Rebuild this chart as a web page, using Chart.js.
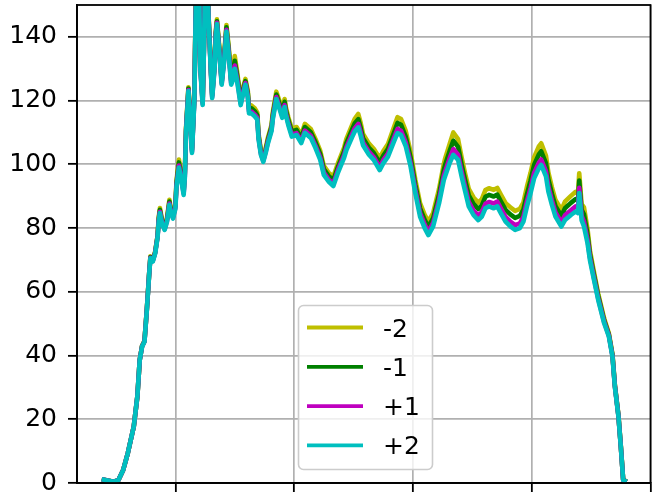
<!DOCTYPE html>
<html>
<head>
<meta charset="utf-8">
<script src="https://cdn.jsdelivr.net/npm/chart.js@4/dist/chart.umd.min.js"></script>
<style>
  html, body { margin: 0; padding: 0; background: #fff; }
  #wrap { width: 653px; height: 502px; }
</style>
</head>
<body>
<div id="wrap"><canvas id="chart" width="653" height="502"></canvas></div>
<script>
// values (x in axis units, ticks every 100)
const xValues = [
    38, 48, 52, 56, 60, 65, 68, 70, 72, 74,
    76, 78, 79, 81, 83, 85, 86, 87, 89, 91,
    93, 95, 96, 98, 100, 101, 103, 105, 107, 108,
    109, 111, 112, 114, 116, 117, 118, 120, 121, 123,
    124, 125, 127, 128, 130, 131, 133, 134, 135, 137,
    139, 141, 143, 145, 147, 148, 150, 152, 155, 157,
    159, 161, 162, 164, 167, 169, 170, 172, 174, 176,
    178, 181, 182, 185, 188, 190, 192, 193, 195, 198,
    202, 206, 209, 214, 218, 222, 225, 229, 233, 237,
    242, 244, 249, 251, 254, 256, 258, 263, 267, 272,
    275, 279, 284, 287, 290, 294, 298, 302, 306, 310,
    313, 317, 322, 326, 327, 331, 334, 338, 341, 344,
    347, 351, 355, 358, 361, 364, 368, 371, 374, 378,
    382, 386, 390, 393, 396, 399, 402, 406, 408, 412,
    414, 417, 420, 425, 428, 433, 437, 439, 440, 442,
    444, 447, 449, 452, 456, 461, 465, 468, 470, 473,
    475, 477, 480
];

const seriesMinus2 = [
    1.2, 0.4, 0.9, 4.0, 9.4, 17.7, 27.1, 38.6, 43.1, 44.6,
    54.6, 66.1, 71.1, 70.1, 72.6, 77.6, 83.4, 86.3, 82.2, 80.4,
    83.3, 88.9, 86.4, 84.2, 87.5, 95.0, 101.5, 97.2, 92.2, 98.0,
    111.5, 124.2, 118.5, 105.1, 121.5, 146.5, 161.5, 156.5, 131.5, 120.1,
    136.5, 156.5, 159.5, 146.5, 129.5, 122.3, 131.5, 141.8, 145.5, 136.8,
    126.5, 134.0, 143.7, 136.5, 127.0, 128.5, 134.0, 129.0, 120.6, 124.0,
    126.8, 123.0, 118.2, 118.5, 117.5, 116.2, 109.8, 104.5, 102.0, 105.0,
    108.5, 112.5, 116.2, 122.8, 119.5, 116.9, 120.5, 118.0, 114.9, 111.2,
    111.7, 109.2, 112.7, 111.1, 107.9, 104.2, 99.5, 97.4, 96.1, 100.5,
    105.2, 108.0, 112.5, 114.3, 115.8, 113.0, 109.5, 106.5, 104.9, 101.9,
    104.1, 106.4, 111.6, 114.8, 114.2, 110.4, 103.9, 95.2, 87.8, 84.1,
    82.0, 84.7, 92.3, 100.1, 101.7, 106.5, 110.0, 107.9, 102.2, 97.0,
    92.3, 89.6, 88.0, 89.1, 91.9, 92.5, 92.0, 92.6, 90.5, 87.8,
    86.5, 85.4, 86.0, 88.0, 93.0, 97.3, 102.2, 105.6, 106.6, 102.7,
    97.5, 92.8, 88.8, 85.7, 88.3, 90.1, 91.4, 90.9, 97.2, 87.5,
    86.5, 79.7, 73.0, 67.0, 59.4, 51.6, 46.9, 40.4, 30.8, 21.3,
    11.7, 1.1, 0.4
];

const seriesMinus1 = [
    1.2, 0.4, 0.9, 4.0, 9.4, 17.7, 27.1, 38.6, 43.0, 44.5,
    54.5, 66.0, 70.9, 69.9, 72.4, 77.4, 82.9, 85.7, 81.8, 80.0,
    82.8, 88.3, 85.9, 83.8, 86.9, 94.3, 100.6, 96.4, 91.5, 97.3,
    110.9, 123.8, 117.9, 104.5, 120.9, 145.9, 160.9, 155.9, 130.9, 119.5,
    135.9, 155.9, 158.9, 145.9, 128.9, 121.7, 130.9, 141.1, 144.9, 136.1,
    125.9, 133.3, 143.0, 135.6, 126.3, 127.6, 132.5, 127.9, 119.9, 123.3,
    126.1, 122.3, 117.4, 117.6, 116.6, 115.4, 109.1, 103.9, 101.6, 104.4,
    107.8, 111.8, 115.4, 121.9, 118.6, 116.0, 119.6, 117.1, 114.0, 110.3,
    110.8, 108.3, 111.7, 110.1, 106.9, 103.2, 98.5, 96.4, 95.0, 99.4,
    104.0, 106.7, 111.1, 112.8, 114.2, 111.5, 108.2, 105.2, 103.6, 100.5,
    102.7, 104.9, 109.9, 113.0, 112.4, 108.6, 102.2, 93.6, 86.2, 82.5,
    80.4, 83.1, 90.6, 98.3, 99.7, 104.3, 107.4, 105.5, 100.0, 95.0,
    90.3, 87.6, 86.0, 87.1, 89.8, 90.4, 89.9, 90.5, 88.4, 85.7,
    84.3, 83.2, 83.8, 85.8, 90.7, 94.9, 99.8, 103.1, 104.1, 100.3,
    95.3, 90.8, 86.9, 83.8, 86.2, 87.9, 89.1, 88.6, 94.9, 85.7,
    84.3, 78.0, 71.9, 66.1, 58.7, 51.0, 46.5, 40.1, 30.6, 21.2,
    11.6, 1.0, 0.4
];

const seriesPlus1 = [
    1.2, 0.4, 0.9, 4.0, 9.4, 17.7, 27.1, 38.6, 42.9, 44.4,
    54.4, 65.9, 70.7, 69.7, 72.2, 77.2, 82.4, 85.1, 81.3, 79.7,
    82.3, 87.7, 85.4, 83.3, 86.4, 93.5, 99.6, 95.6, 90.9, 96.5,
    110.4, 123.3, 117.4, 104.0, 120.4, 145.4, 160.4, 155.4, 130.4, 119.0,
    135.4, 155.4, 158.4, 145.4, 128.4, 121.2, 130.4, 140.5, 144.4, 135.5,
    125.4, 132.5, 142.2, 134.6, 125.5, 126.6, 131.0, 126.8, 119.1, 122.5,
    125.5, 121.5, 116.6, 116.6, 115.6, 114.6, 108.5, 103.4, 101.1, 103.9,
    107.2, 111.0, 114.6, 121.1, 117.6, 115.2, 118.6, 116.1, 113.0, 109.3,
    109.8, 107.3, 110.6, 109.0, 105.8, 102.1, 97.4, 95.3, 93.9, 98.3,
    102.8, 105.4, 109.7, 111.3, 112.7, 110.0, 106.9, 103.9, 102.3, 99.1,
    101.3, 103.4, 108.2, 111.1, 110.5, 106.8, 100.5, 92.1, 84.7, 81.0,
    78.9, 81.6, 88.9, 96.4, 97.6, 102.0, 104.8, 103.0, 97.7, 92.9,
    88.2, 85.5, 83.9, 85.0, 87.6, 88.2, 87.7, 88.3, 86.2, 83.5,
    82.0, 80.9, 81.5, 83.5, 88.4, 92.5, 97.3, 100.5, 101.5, 97.8,
    93.0, 88.7, 84.9, 81.8, 84.0, 85.6, 86.8, 86.3, 92.6, 83.8,
    82.0, 76.3, 70.8, 65.1, 57.9, 50.5, 46.2, 39.8, 30.4, 21.0,
    11.5, 0.9, 0.4
];

const seriesPlus2 = [
    1.2, 0.4, 0.9, 4.0, 9.4, 17.7, 27.1, 38.6, 42.8, 44.3,
    54.3, 65.8, 70.5, 69.5, 72.0, 77.0, 82.0, 84.7, 81.0, 79.4,
    82.0, 87.3, 85.0, 83.0, 86.0, 93.0, 99.0, 95.0, 90.4, 96.0,
    110.0, 123.0, 117.0, 103.6, 120.0, 145.0, 160.0, 155.0, 130.0, 118.6,
    135.0, 155.0, 158.0, 145.0, 128.0, 120.8, 130.0, 140.0, 144.0, 135.0,
    125.0, 132.0, 141.7, 134.0, 125.0, 126.0, 130.0, 126.0, 118.6, 122.0,
    125.0, 121.0, 116.0, 116.0, 115.0, 114.0, 108.0, 103.0, 100.8, 103.5,
    106.7, 110.5, 114.0, 120.5, 117.0, 114.6, 118.0, 115.5, 112.4, 108.7,
    109.2, 106.7, 109.9, 108.3, 105.1, 101.4, 96.7, 94.6, 93.2, 97.5,
    102.0, 104.5, 108.7, 110.3, 111.6, 109.0, 106.0, 103.0, 101.4, 98.2,
    100.3, 102.4, 107.1, 109.8, 109.2, 105.6, 99.4, 91.0, 83.6, 79.9,
    77.8, 80.5, 87.8, 95.1, 96.2, 100.5, 103.0, 101.4, 96.2, 91.5,
    86.8, 84.1, 82.5, 83.6, 86.2, 86.8, 86.2, 86.8, 84.7, 82.0,
    80.5, 79.4, 80.0, 82.0, 86.8, 90.9, 95.6, 98.8, 99.8, 96.2,
    91.5, 87.3, 83.6, 80.5, 82.5, 84.1, 85.2, 84.7, 91.0, 82.5,
    80.5, 75.2, 70.0, 64.5, 57.4, 50.1, 45.9, 39.6, 30.2, 20.9,
    11.4, 0.9, 0.4
];

const seriesLabels = ['-2', '-1', '+1', '+2'];
const seriesColors = ['#bfbf00', '#008000', '#bf00bf', '#00bfbf'];
const seriesValues = [seriesMinus2, seriesMinus1, seriesPlus1, seriesPlus2];

const FONT = 'DejaVu Sans';
const GRID = '#b0b0b0';

// ── Plugins ──────────────────────────────────────────────────────────────────

// top/right spines like matplotlib's box
const framePlugin = {
    id: 'frame',
    afterDatasetsDraw(chart) {
        const { ctx, chartArea: a } = chart;
        ctx.save();
        ctx.strokeStyle = '#000';
        ctx.lineWidth = 1.8;
        ctx.strokeRect(a.left, a.top, a.right - a.left, a.bottom - a.top);
        ctx.restore();
    }
};

// legend box inside the plot area
const legendPlugin = {
    id: 'innerLegend',
    afterDraw(chart) {
        const { ctx } = chart;
        const box = { x: 298.5, y: 305.5, w: 134, h: 164 };
        ctx.save();
        ctx.beginPath();
        ctx.roundRect(box.x, box.y, box.w, box.h, 5);
        ctx.fillStyle = 'rgba(255,255,255,0.8)';
        ctx.fill();
        ctx.strokeStyle = '#cccccc';
        ctx.lineWidth = 1.6;
        ctx.stroke();

        ctx.font = `25px "${FONT}"`;
        ctx.textAlign = 'left';
        ctx.textBaseline = 'alphabetic';
        chart.data.datasets.forEach((ds, i) => {
            const rowY = 327.5 + i * 39.3;
            ctx.beginPath();
            ctx.moveTo(307, rowY);
            ctx.lineTo(363, rowY);
            ctx.strokeStyle = ds.borderColor;
            ctx.lineWidth = 3.8;
            ctx.stroke();
            ctx.fillStyle = '#000';
            ctx.fillText(ds.label, 383, rowY + 9);
        });
        ctx.restore();
    }
};

// ── Chart ────────────────────────────────────────────────────────────────────

const datasets = seriesValues.map((vals, i) => ({
    label: seriesLabels[i],
    data: vals.map((v, j) => ({ x: xValues[j], y: v })),
    borderColor: seriesColors[i],
    borderWidth: 4.6,
    borderJoinStyle: 'round',
    pointRadius: 0,
    fill: false,
    tension: 0,
    order: seriesValues.length - i,
}));

const gridOpts = { color: GRID, lineWidth: 1.7, tickColor: '#000', tickLength: 9, tickWidth: 1.8 };

new Chart(document.getElementById('chart').getContext('2d'), {
    type: 'line',
    data: { datasets },
    options: {
        responsive: false,
        animation: false,
        devicePixelRatio: 1,
        layout: { padding: { left: 0, right: 2.5, top: 5, bottom: 0 } },
        plugins: {
            legend: { display: false },
            tooltip: { enabled: false },
        },
        scales: {
            x: {
                type: 'linear',
                min: 17.2,
                max: 500,
                ticks: { display: false, stepSize: 100, includeBounds: false },
                grid: gridOpts,
                border: { color: '#000', width: 1.8 },
                afterFit(s) { s.height = 19; s.paddingLeft = 0; s.paddingRight = 0; },
            },
            y: {
                type: 'linear',
                min: 0,
                max: 150,
                ticks: {
                    stepSize: 20,
                    includeBounds: false,
                    color: '#000',
                    padding: 11,
                    font: { family: FONT, size: 25 },
                },
                grid: gridOpts,
                border: { color: '#000', width: 1.8 },
                afterFit(s) { s.width = 77; s.paddingTop = 0; s.paddingBottom = 0; },
            },
        },
    },
    plugins: [framePlugin, legendPlugin],
});
</script>
</body>
</html>
